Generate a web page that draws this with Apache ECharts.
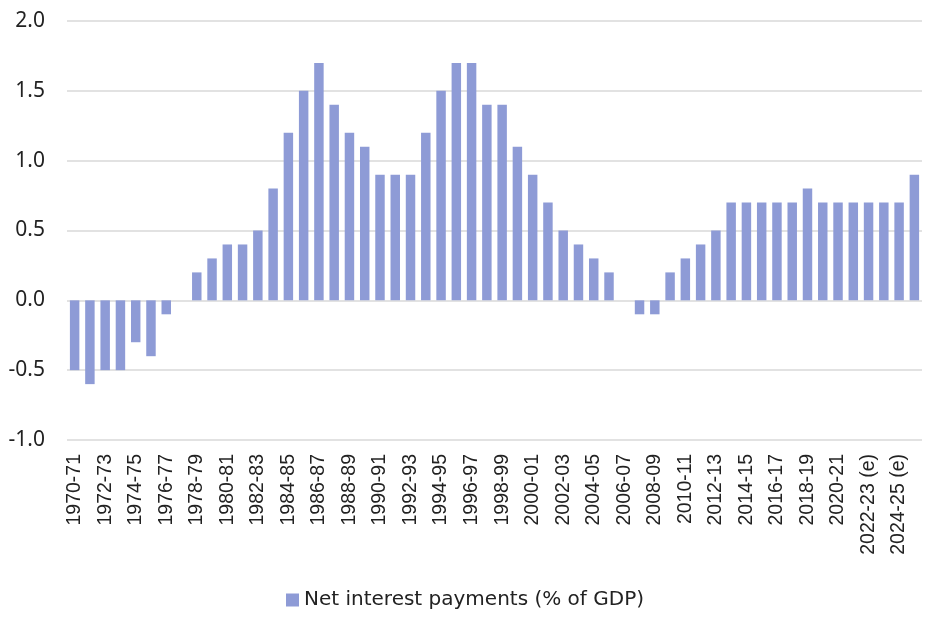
<!DOCTYPE html>
<html><head><meta charset="utf-8">
<script src="https://cdn.jsdelivr.net/npm/echarts@6/dist/echarts.min.js"></script>
<style>html,body{margin:0;padding:0;background:#fff}#c{width:930px;height:619px}</style>
</head><body><div id="c"></div>
<script>
const categories = ["1970-71","1971-72","1972-73","1973-74","1974-75","1975-76","1976-77","1977-78","1978-79","1979-80",
"1980-81","1981-82","1982-83","1983-84","1984-85","1985-86","1986-87","1987-88","1988-89","1989-90",
"1990-91","1991-92","1992-93","1993-94","1994-95","1995-96","1996-97","1997-98","1998-99","1999-00",
"2000-01","2001-02","2002-03","2003-04","2004-05","2005-06","2006-07","2007-08","2008-09","2009-10",
"2010-11","2011-12","2012-13","2013-14","2014-15","2015-16","2016-17","2017-18","2018-19","2019-20",
"2020-21","2021-22","2022-23 (e)","2023-24 (e)","2024-25 (e)","2025-26 (e)"];
const netInterest = [-0.5,-0.6,-0.5,-0.5,-0.3,-0.4,-0.1,0,0.2,0.3,
0.4,0.4,0.5,0.8,1.2,1.5,1.7,1.4,1.2,1.1,
0.9,0.9,0.9,1.2,1.5,1.7,1.7,1.4,1.4,1.1,
0.9,0.7,0.5,0.4,0.3,0.2,0,-0.1,-0.1,0.2,
0.3,0.4,0.5,0.7,0.7,0.7,0.7,0.7,0.8,0.7,
0.7,0.7,0.7,0.7,0.7,0.9];
const seriesName = "Net interest payments (% of GDP)";
const chart = echarts.init(document.getElementById('c'));
chart.setOption({
  animation:false,
  grid:{left:67,right:8,top:21,bottom:179,containLabel:false},
  legend:{bottom:4,left:'center',itemWidth:13,itemHeight:13,icon:'rect',itemGap:6,
    textStyle:{fontFamily:"'DejaVu Sans', sans-serif",fontSize:20,color:'#222'},data:[seriesName]},
  xAxis:{type:'category',data:categories,
    axisLine:{show:false},axisTick:{show:false},
    axisLabel:{interval:1,rotate:90,fontFamily:"'Liberation Sans', Arial, sans-serif",fontSize:19.5,color:'#222',margin:14}},
  yAxis:{type:'value',min:-1,max:2,interval:0.5,
    axisLabel:{formatter:v=>v.toFixed(1),fontFamily:"'Noto Sans', sans-serif",fontSize:21,color:'#222',margin:22},
    splitLine:{lineStyle:{color:'#d9d9d9',width:1.5}},
    axisLine:{show:false},axisTick:{show:false}},
  series:[{name:seriesName,type:'bar',data:netInterest,barCategoryGap:'38%',
    itemStyle:{color:'#8e9bd6'}}]
});
</script></body></html>
